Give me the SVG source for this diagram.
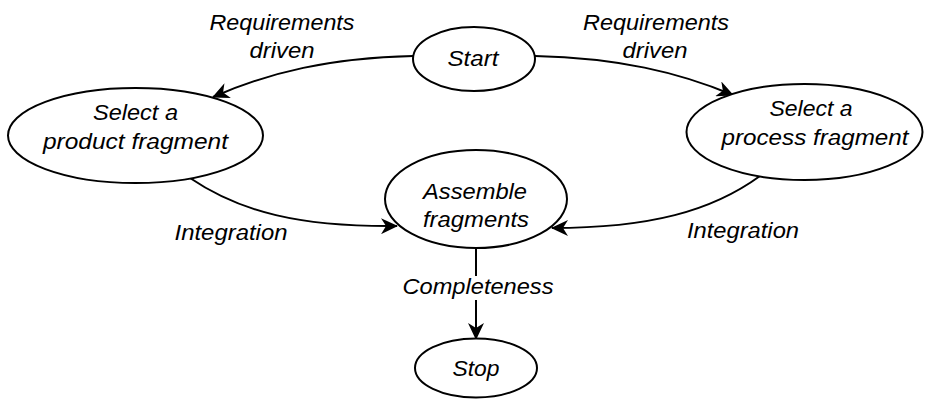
<svg xmlns="http://www.w3.org/2000/svg" width="925" height="399" viewBox="0 0 925 399">
  <defs>
    <marker id="arrow" viewBox="0 0 17 16" refX="16" refY="8" markerWidth="17" markerHeight="16" markerUnits="userSpaceOnUse" orient="auto">
      <path d="M0,0 L17,8 L0,16 L5,8 Z" fill="#000"/>
    </marker>
    <style>
      .node ellipse { fill: #fff; stroke: #000; stroke-width: 2; }
      .edge { fill: none; stroke: #000; stroke-width: 2; marker-end: url(#arrow); }
      text { font-family: "Liberation Sans", Arial, sans-serif; font-style: italic; font-size: 22.5px; fill: #000; text-anchor: middle; }
      .lbl-bg { fill: #fff; }
    </style>
  </defs>

  <!-- connectors -->
  <g id="connectors">
    <path class="edge" d="M413,56 C330,58 270,72 213,97"/>
    <path class="edge" d="M535,56 C618,58 678,72 733,95"/>
    <path class="edge" d="M190,178 C240,212 300,227 397,226"/>
    <path class="edge" d="M760,176 C712,211 650,228 552,228"/>
    <path class="edge" d="M476,248 L476,339"/>
  </g>

  <!-- edge labels -->
  <g id="labels">
    <text x="282" y="30" textLength="145" lengthAdjust="spacingAndGlyphs">Requirements</text>
    <text x="282" y="58" textLength="65" lengthAdjust="spacingAndGlyphs">driven</text>
    <text x="656" y="30" textLength="146" lengthAdjust="spacingAndGlyphs">Requirements</text>
    <text x="655" y="58" textLength="65" lengthAdjust="spacingAndGlyphs">driven</text>
    <text x="231" y="240" textLength="113" lengthAdjust="spacingAndGlyphs">Integration</text>
    <text x="743" y="238" textLength="112" lengthAdjust="spacingAndGlyphs">Integration</text>
    <rect class="lbl-bg" x="400" y="276" width="157" height="24"/>
    <text x="478" y="294" textLength="151" lengthAdjust="spacingAndGlyphs">Completeness</text>
  </g>

  <!-- nodes -->
  <g id="start" class="node">
    <ellipse cx="474" cy="59" rx="61" ry="32"/>
    <text x="473" y="66" textLength="51" lengthAdjust="spacingAndGlyphs">Start</text>
  </g>
  <g id="product" class="node">
    <ellipse cx="135.5" cy="135.5" rx="127.5" ry="47.5"/>
    <text x="135.5" y="120" textLength="85" lengthAdjust="spacingAndGlyphs">Select a</text>
    <text x="135.5" y="149" textLength="185" lengthAdjust="spacingAndGlyphs">product fragment</text>
  </g>
  <g id="process" class="node">
    <ellipse cx="804.5" cy="132" rx="118" ry="48"/>
    <text x="811" y="116" textLength="83" lengthAdjust="spacingAndGlyphs">Select a</text>
    <text x="815" y="145" textLength="187" lengthAdjust="spacingAndGlyphs">process fragment</text>
  </g>
  <g id="assemble" class="node">
    <ellipse cx="476" cy="199" rx="91" ry="49"/>
    <text x="475" y="199" textLength="104" lengthAdjust="spacingAndGlyphs">Assemble</text>
    <text x="476" y="227" textLength="106" lengthAdjust="spacingAndGlyphs">fragments</text>
  </g>
  <g id="stop" class="node">
    <ellipse cx="476" cy="368" rx="61" ry="29.5"/>
    <text x="476" y="376" textLength="47" lengthAdjust="spacingAndGlyphs">Stop</text>
  </g>
</svg>
